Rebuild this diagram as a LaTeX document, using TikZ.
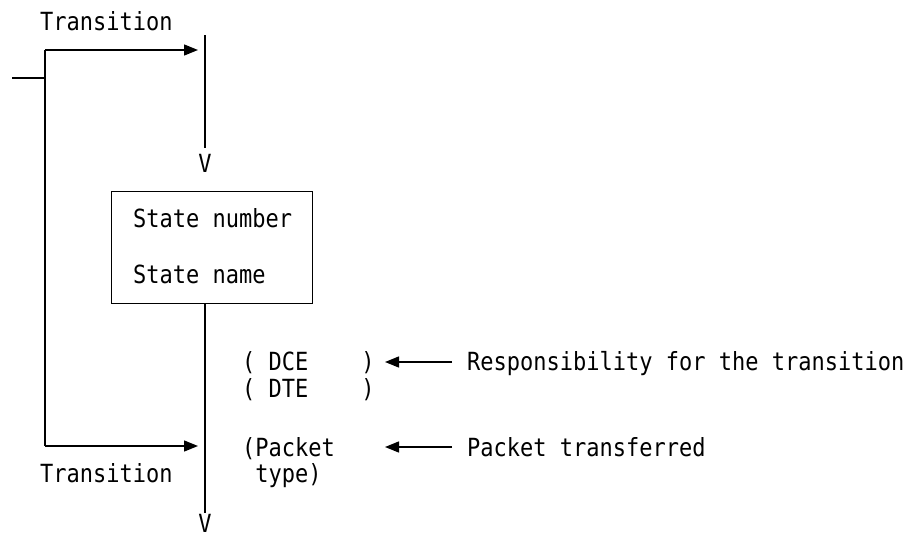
\documentclass[tikz,border=0pt]{standalone}
\usepackage{fontspec}
\usetikzlibrary{arrows.meta}
\newfontfamily\monofnt[FakeStretch=0.88]{DejaVu Sans Mono}
\begin{document}
\begin{tikzpicture}[x=1pt,y=-1pt,
  ln/.style={line width=1.4pt,black},
  arr/.style={ln,-{Triangle[length=14pt,width=11pt]}},
  txt/.style={anchor=base west,inner sep=0pt,font=\monofnt\fontsize{25}{27}\selectfont},
  vtxt/.style={anchor=base,inner sep=0pt,font=\monofnt\fontsize{25}{27}\selectfont}]
\useasboundingbox (0,0) rectangle (912,538);
% coordinates
\coordinate (in) at (12,78);
\coordinate (split) at (45,78);
\coordinate (topL) at (45,50);
\coordinate (topTip) at (198,50);
\coordinate (botL) at (45,446);
\coordinate (botTip) at (198,446);
\coordinate (vtopS) at (205,35);
\coordinate (vtopE) at (205,148);
\coordinate (vbotS) at (205,303);
\coordinate (vbotE) at (205,513);
% box
\node[ln,draw,minimum width=201pt,minimum height=112pt,anchor=north west,inner sep=0pt] (box) at (111,191) {};
\node[txt] (sn) at (133,227) {State number};
\node[txt] (sname) at (133,283) {State name};
% labels
\node[txt] (t1) at (40,30) {Transition};
\node[txt] (t2) at (40,482) {Transition};
\node[vtxt] (v1) at (205,172) {V};
\node[vtxt] (v2) at (205,532) {V};
\node[txt] (dce) at (242,370) {(\ DCE\ \ \ \ )};
\node[txt] (dte) at (242,397) {(\ DTE\ \ \ \ )};
\node[txt] (pk) at (242,456) {(Packet};
\node[txt] (ty) at (242,482) {\ type)};
\node[txt] (resp) at (467,370) {Responsibility for the transition};
\node[txt] (ptr) at (467,456) {Packet transferred};
\coordinate (respL) at (452,362);
\coordinate (respTip) at (385,362);
\coordinate (ptrL) at (452,447);
\coordinate (ptrTip) at (385,447);
% lines
\draw[ln] (in) -- (split);
\draw[ln] (topL) -- (botL);
\draw[arr] (topL) -- (topTip);
\draw[arr] (botL) -- (botTip);
\draw[ln] (vtopS) -- (vtopE);
\draw[ln] (box.south -| vbotS) -- (vbotE);
\draw[arr] (respL) -- (respTip);
\draw[arr] (ptrL) -- (ptrTip);
\end{tikzpicture}
\end{document}
